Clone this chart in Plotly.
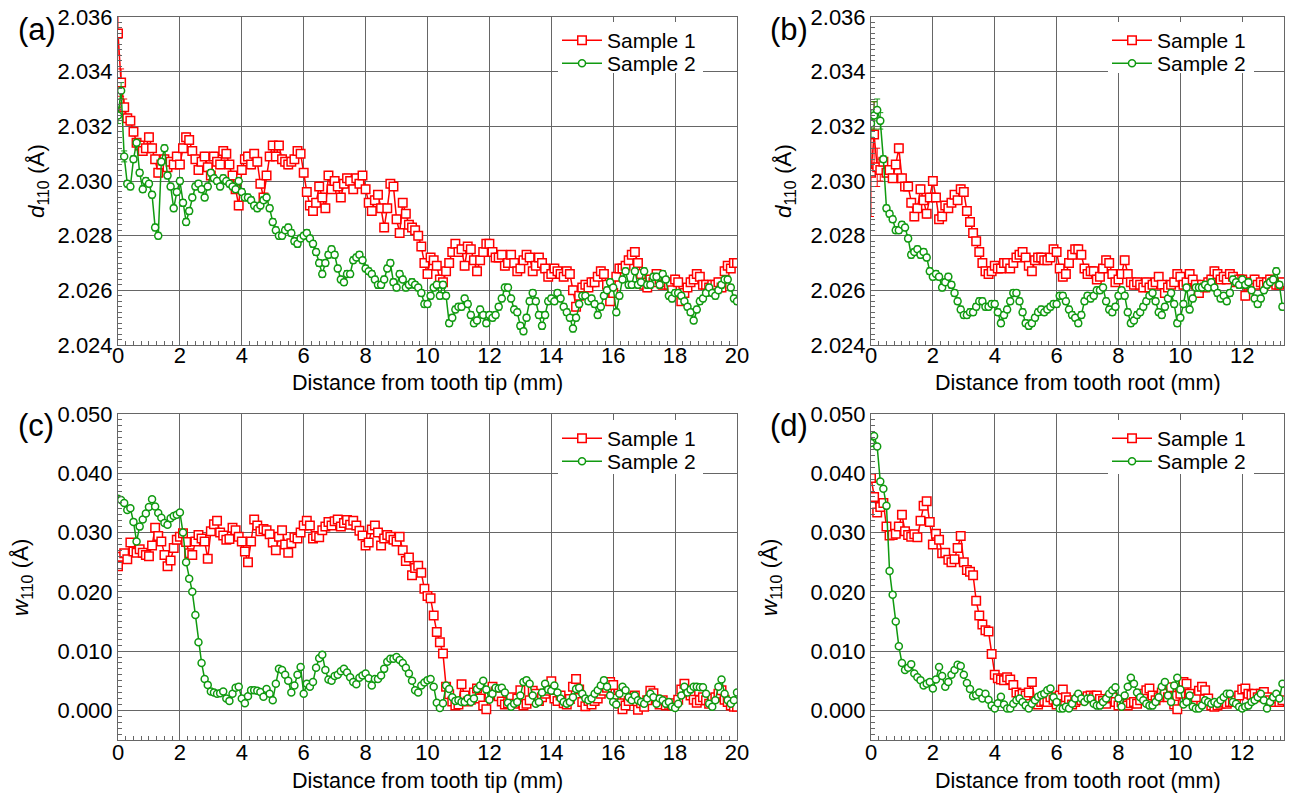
import numpy as np
import plotly.graph_objects as go

# ---------------- data (0.1 mm step) ----------------
# (a) lattice spacing d110 vs distance from tooth tip
d_tip_s1 = [
    2.0354, 2.0336, 2.0327, 2.0323, 2.0322, 2.0318, 2.0314, 2.0313, 2.0311, 2.0312,
    2.0316, 2.0312, 2.0308, 2.0303, 2.0306, 2.0308, 2.0305, 2.0307, 2.0306, 2.0309,
    2.0306, 2.0312, 2.0316, 2.0315, 2.0311, 2.0308, 2.0304, 2.0307, 2.0309, 2.0305,
    2.0302, 2.0309, 2.0307, 2.0306, 2.0311, 2.0310, 2.0306, 2.0302, 2.0297, 2.0291,
    2.0304, 2.0308, 2.0309, 2.0306, 2.0310, 2.0307, 2.0299, 2.0294, 2.0302, 2.0309,
    2.0313, 2.0309, 2.0313, 2.0308, 2.0307, 2.0306, 2.0307, 2.0308, 2.0311, 2.0310,
    2.0303, 2.0296, 2.0291, 2.0289, 2.0292, 2.0298, 2.0294, 2.0290, 2.0302, 2.0297,
    2.0300, 2.0298, 2.0294, 2.0299, 2.0301, 2.0300, 2.0297, 2.0301, 2.0299, 2.0302,
    2.0297, 2.0292, 2.0289, 2.0293, 2.0295, 2.0290, 2.0283, 2.0290, 2.0299, 2.0298,
    2.0286, 2.0281, 2.0292, 2.0288, 2.0284, 2.0283, 2.0282, 2.0280, 2.0276, 2.0270,
    2.0266, 2.0272, 2.0271, 2.0269, 2.0264, 2.0263, 2.0267, 2.0270, 2.0274, 2.0277,
    2.0274, 2.0275, 2.0269, 2.0276, 2.0275, 2.0271, 2.0267, 2.0271, 2.0274, 2.0277,
    2.0277, 2.0274, 2.0272, 2.0272, 2.0273, 2.0269, 2.0270, 2.0273, 2.0270, 2.0267,
    2.0268, 2.0271, 2.0273, 2.0272, 2.0267, 2.0269, 2.0272, 2.0270, 2.0268, 2.0265,
    2.0266, 2.0268, 2.0267, 2.0266, 2.0265, 2.0267, 2.0266, 2.0260, 2.0254, 2.0258,
    2.0261, 2.0262, 2.0261, 2.0263, 2.0263, 2.0265, 2.0267, 2.0266, 2.0262, 2.0256,
    2.0259, 2.0265, 2.0268, 2.0268, 2.0269, 2.0271, 2.0273, 2.0274, 2.0270, 2.0266,
    2.0262, 2.0261, 2.0264, 2.0263, 2.0266, 2.0264, 2.0262, 2.0263, 2.0262, 2.0260,
    2.0264, 2.0263, 2.0256, 2.0259, 2.0261, 2.0263, 2.0264, 2.0266, 2.0265, 2.0262,
    2.0262, 2.0261, 2.0262, 2.0262, 2.0263, 2.0261, 2.0267, 2.0269, 2.0268, 2.0270,
    2.0270,
]
d_tip_s2 = [
    2.0324, 2.0333, 2.0309, 2.0299, 2.0298, 2.0308, 2.0314, 2.0303, 2.0297, 2.0300,
    2.0299, 2.0295, 2.0283, 2.0280, 2.0307, 2.0312, 2.0302, 2.0298, 2.0290, 2.0296,
    2.0300, 2.0292, 2.0285, 2.0289, 2.0294, 2.0298, 2.0299, 2.0297, 2.0294, 2.0298,
    2.0303, 2.0301, 2.0300, 2.0298, 2.0301, 2.0300, 2.0299, 2.0298, 2.0297, 2.0300,
    2.0296, 2.0294, 2.0294, 2.0293, 2.0291, 2.0290, 2.0291, 2.0293, 2.0294, 2.0290,
    2.0285, 2.0282, 2.0280, 2.0280, 2.0282, 2.0283, 2.0281, 2.0278, 2.0277, 2.0279,
    2.0280, 2.0281, 2.0279, 2.0277, 2.0274, 2.0270, 2.0266, 2.0270, 2.0273, 2.0275,
    2.0273, 2.0268, 2.0264, 2.0263, 2.0266, 2.0266, 2.0271, 2.0272, 2.0273, 2.0271,
    2.0268, 2.0267, 2.0266, 2.0264, 2.0262, 2.0262, 2.0264, 2.0268, 2.0270, 2.0263,
    2.0261, 2.0266, 2.0264, 2.0261, 2.0262, 2.0263, 2.0262, 2.0261, 2.0259, 2.0255,
    2.0255, 2.0258, 2.0261, 2.0262, 2.0258, 2.0262, 2.0258, 2.0248, 2.0250, 2.0253,
    2.0254, 2.0254, 2.0257, 2.0255, 2.0251, 2.0248, 2.0249, 2.0253, 2.0251, 2.0248,
    2.0251, 2.0250, 2.0251, 2.0254, 2.0257, 2.0261, 2.0261, 2.0257, 2.0253, 2.0252,
    2.0247, 2.0245, 2.0250, 2.0256, 2.0259, 2.0256, 2.0251, 2.0247, 2.0251, 2.0256,
    2.0257, 2.0256, 2.0259, 2.0257, 2.0254, 2.0252, 2.0250, 2.0246, 2.0250, 2.0255,
    2.0258, 2.0258, 2.0256, 2.0257, 2.0255, 2.0251, 2.0254, 2.0258, 2.0260, 2.0263,
    2.0261, 2.0252, 2.0258, 2.0264, 2.0267, 2.0262, 2.0262, 2.0267, 2.0262, 2.0263,
    2.0267, 2.0262, 2.0262, 2.0265, 2.0265, 2.0262, 2.0266, 2.0264, 2.0258, 2.0257,
    2.0259, 2.0259, 2.0258, 2.0256, 2.0254, 2.0252, 2.0249, 2.0253, 2.0256, 2.0257,
    2.0259, 2.0261, 2.0259, 2.0258, 2.0260, 2.0262, 2.0264, 2.0264, 2.0261, 2.0257,
    2.0256,
]

# (b) d110 vs distance from tooth root
d_root_s1 = [
    2.0303, 2.0317, 2.0305, 2.0304, 2.0307, 2.0303, 2.0304, 2.0301, 2.0306, 2.0312,
    2.0301, 2.0298, 2.0298, 2.0292, 2.0287, 2.0290, 2.0297, 2.0293, 2.0288, 2.0294,
    2.0300, 2.0294, 2.0286, 2.0287, 2.0291, 2.0290, 2.0292, 2.0295, 2.0293, 2.0297,
    2.0296, 2.0289, 2.0285, 2.0281, 2.0278, 2.0274, 2.0270, 2.0267, 2.0266, 2.0267,
    2.0269, 2.0268, 2.0268, 2.0270, 2.0270, 2.0268, 2.0270, 2.0272, 2.0273, 2.0274,
    2.0272, 2.0269, 2.0267, 2.0271, 2.0272, 2.0272, 2.0271, 2.0271, 2.0272, 2.0275,
    2.0274, 2.0268, 2.0265, 2.0266, 2.0270, 2.0273, 2.0275, 2.0275, 2.0273, 2.0268,
    2.0266, 2.0267, 2.0267, 2.0264, 2.0265, 2.0268, 2.0271, 2.0270, 2.0266, 2.0263,
    2.0264, 2.0266, 2.0271, 2.0266, 2.0263, 2.0262, 2.0263, 2.0262, 2.0261, 2.0263,
    2.0261, 2.0262, 2.0263, 2.0265, 2.0262, 2.0259, 2.0261, 2.0262, 2.0263, 2.0266,
    2.0265, 2.0262, 2.0263, 2.0266, 2.0264, 2.0262, 2.0259, 2.0262, 2.0261, 2.0263,
    2.0264, 2.0267, 2.0266, 2.0264, 2.0265, 2.0264, 2.0266, 2.0265, 2.0263, 2.0264,
    2.0264, 2.0258, 2.0262, 2.0263, 2.0264, 2.0262, 2.0263, 2.0262, 2.0263, 2.0264,
    2.0263, 2.0262, 2.0262, 2.0263,
]
d_root_s2 = [
    2.0321, 2.0324, 2.0326, 2.0322, 2.0308, 2.0290, 2.0288, 2.0286, 2.0282, 2.0282,
    2.0284, 2.0283, 2.0279, 2.0273, 2.0274, 2.0275, 2.0273, 2.0274, 2.0272, 2.0267,
    2.0265, 2.0266, 2.0265, 2.0261, 2.0263, 2.0265, 2.0262, 2.0259, 2.0256, 2.0253,
    2.0251, 2.0251, 2.0252, 2.0252, 2.0254, 2.0256, 2.0256, 2.0254, 2.0254, 2.0255,
    2.0255, 2.0252, 2.0248, 2.0251, 2.0253, 2.0256, 2.0259, 2.0259, 2.0256, 2.0252,
    2.0248, 2.0247, 2.0248, 2.0250, 2.0252, 2.0253, 2.0252, 2.0253, 2.0254, 2.0255,
    2.0255, 2.0258, 2.0258, 2.0256, 2.0253, 2.0251, 2.0250, 2.0248, 2.0251, 2.0256,
    2.0258, 2.0257, 2.0258, 2.0260, 2.0260, 2.0261, 2.0256, 2.0253, 2.0252, 2.0254,
    2.0258, 2.0260, 2.0258, 2.0252, 2.0248, 2.0249, 2.0251, 2.0252, 2.0254, 2.0256,
    2.0258, 2.0259, 2.0256, 2.0252, 2.0251, 2.0254, 2.0257, 2.0259, 2.0255, 2.0248,
    2.0250, 2.0255, 2.0261, 2.0253, 2.0257, 2.0261, 2.0261, 2.0261, 2.0262, 2.0261,
    2.0263, 2.0261, 2.0259, 2.0257, 2.0258, 2.0256, 2.0259, 2.0264, 2.0263, 2.0262,
    2.0264, 2.0262, 2.0263, 2.0260, 2.0257, 2.0255, 2.0257, 2.0260, 2.0262, 2.0263,
    2.0264, 2.0267, 2.0262, 2.0254,
]

# (c) peak width w110 vs distance from tooth tip
w_tip_s1 = [
    0.0243, 0.0259, 0.0265, 0.0255, 0.0283, 0.0268, 0.0266, 0.0272, 0.0266, 0.0262,
    0.0260, 0.0278, 0.0308, 0.0294, 0.0285, 0.0262, 0.0243, 0.0253, 0.0274, 0.0288,
    0.0293, 0.0299, 0.0284, 0.0265, 0.0262, 0.0285, 0.0296, 0.0290, 0.0285, 0.0256,
    0.0302, 0.0314, 0.0320, 0.0300, 0.0295, 0.0288, 0.0289, 0.0308, 0.0304, 0.0293,
    0.0285, 0.0268, 0.0250, 0.0285, 0.0322, 0.0312, 0.0302, 0.0306, 0.0304, 0.0297,
    0.0283, 0.0270, 0.0293, 0.0304, 0.0280, 0.0266, 0.0282, 0.0292, 0.0290, 0.0300,
    0.0312, 0.0320, 0.0312, 0.0290, 0.0294, 0.0292, 0.0304, 0.0310, 0.0318, 0.0312,
    0.0319, 0.0322, 0.0310, 0.0316, 0.0321, 0.0313, 0.0320, 0.0312, 0.0303, 0.0295,
    0.0278, 0.0283, 0.0305, 0.0312, 0.0300, 0.0278, 0.0290, 0.0296, 0.0293, 0.0288,
    0.0285, 0.0293, 0.0270, 0.0252, 0.0258, 0.0228, 0.0240, 0.0244, 0.0232, 0.0205,
    0.0193, 0.0189, 0.0160, 0.0132, 0.0115, 0.0096, 0.0040, 0.0027, 0.0015, 0.0008,
    0.0010, 0.0044, 0.0025, 0.0015, 0.0018, 0.0030, 0.0037, 0.0020, 0.0008, 0.0002,
    0.0025, 0.0040, 0.0032, 0.0024, 0.0015, 0.0010, 0.0012, 0.0022, 0.0011, 0.0020,
    0.0034, 0.0008, 0.0011, 0.0017, 0.0033, 0.0028, 0.0016, 0.0022, 0.0028, 0.0033,
    0.0049, 0.0020, 0.0016, 0.0025, 0.0012, 0.0010, 0.0019, 0.0040, 0.0053, 0.0035,
    0.0014, 0.0007, 0.0016, 0.0010, 0.0016, 0.0020, 0.0028, 0.0033, 0.0038, 0.0048,
    0.0043, 0.0020, 0.0012, 0.0002, 0.0008, 0.0016, 0.0022, 0.0025, 0.0001, 0.0012,
    0.0006, 0.0017, 0.0033, 0.0029, 0.0018, 0.0010, 0.0017, 0.0008, 0.0011, 0.0008,
    0.0012, 0.0018, 0.0035, 0.0045, 0.0030, 0.0025, 0.0018, 0.0013, 0.0017, 0.0022,
    0.0017, 0.0011, 0.0020, 0.0022, 0.0028, 0.0034, 0.0018, 0.0014, 0.0008, 0.0006,
    0.0006,
]
w_tip_s2 = [
    0.0357, 0.0355, 0.0350, 0.0338, 0.0341, 0.0318, 0.0285, 0.0310, 0.0322, 0.0332,
    0.0343, 0.0356, 0.0344, 0.0333, 0.0325, 0.0316, 0.0313, 0.0324, 0.0328, 0.0330,
    0.0334, 0.0300, 0.0250, 0.0222, 0.0200, 0.0161, 0.0115, 0.0080, 0.0053, 0.0043,
    0.0032, 0.0030, 0.0028, 0.0029, 0.0032, 0.0020, 0.0016, 0.0028, 0.0038, 0.0040,
    0.0020, 0.0012, 0.0024, 0.0034, 0.0034, 0.0033, 0.0031, 0.0023, 0.0036, 0.0028,
    0.0017, 0.0045, 0.0070, 0.0068, 0.0060, 0.0050, 0.0030, 0.0042, 0.0060, 0.0073,
    0.0028, 0.0045, 0.0040, 0.0048, 0.0072, 0.0088, 0.0094, 0.0068, 0.0052, 0.0050,
    0.0058, 0.0060, 0.0066, 0.0070, 0.0064, 0.0056, 0.0048, 0.0044, 0.0055, 0.0059,
    0.0062, 0.0054, 0.0042, 0.0053, 0.0053, 0.0059, 0.0070, 0.0082, 0.0087, 0.0087,
    0.0090, 0.0085, 0.0080, 0.0072, 0.0062, 0.0050, 0.0034, 0.0030, 0.0042, 0.0047,
    0.0051, 0.0053, 0.0040, 0.0013, 0.0004, 0.0012, 0.0042, 0.0036, 0.0022, 0.0016,
    0.0017, 0.0014, 0.0014, 0.0020, 0.0014, 0.0020, 0.0036, 0.0042, 0.0050, 0.0035,
    0.0018, 0.0028, 0.0038, 0.0037, 0.0038, 0.0030, 0.0013, 0.0006, 0.0011, 0.0014,
    0.0025, 0.0048, 0.0051, 0.0045, 0.0025, 0.0011, 0.0014, 0.0030, 0.0045, 0.0035,
    0.0033, 0.0042, 0.0030, 0.0020, 0.0014, 0.0011, 0.0014, 0.0022, 0.0036, 0.0038,
    0.0028, 0.0020, 0.0017, 0.0020, 0.0028, 0.0034, 0.0042, 0.0051, 0.0040, 0.0025,
    0.0014, 0.0010, 0.0028, 0.0040, 0.0034, 0.0022, 0.0017, 0.0025, 0.0017, 0.0014,
    0.0011, 0.0020, 0.0028, 0.0022, 0.0011, 0.0020, 0.0017, 0.0011, 0.0014, 0.0006,
    0.0004, 0.0011, 0.0025, 0.0040, 0.0030, 0.0035, 0.0040, 0.0040, 0.0039, 0.0039,
    0.0028, 0.0011, 0.0006, 0.0017, 0.0040, 0.0052, 0.0028, 0.0017, 0.0011, 0.0017,
    0.0030,
]

# (d) w110 vs distance from tooth root
w_root_s1 = [
    0.0392, 0.0360, 0.0334, 0.0343, 0.0350, 0.0310, 0.0295, 0.0296, 0.0298, 0.0310,
    0.0330, 0.0302, 0.0296, 0.0293, 0.0297, 0.0292, 0.0320, 0.0345, 0.0353, 0.0318,
    0.0280, 0.0298, 0.0288, 0.0265, 0.0266, 0.0254, 0.0250, 0.0255, 0.0274, 0.0294,
    0.0250, 0.0237, 0.0234, 0.0228, 0.0185, 0.0160, 0.0145, 0.0135, 0.0133, 0.0095,
    0.0060, 0.0054, 0.0052, 0.0051, 0.0056, 0.0052, 0.0043, 0.0030, 0.0026, 0.0028,
    0.0025, 0.0030, 0.0048, 0.0015, 0.0010, 0.0014, 0.0016, 0.0014, 0.0022, 0.0018,
    0.0010, 0.0025, 0.0035, 0.0022, 0.0017, 0.0010, 0.0014, 0.0020, 0.0017, 0.0020,
    0.0024, 0.0025, 0.0022, 0.0025, 0.0019, 0.0016, 0.0011, 0.0020, 0.0022, 0.0014,
    0.0008, 0.0014, 0.0011, 0.0008, 0.0012, 0.0014, 0.0011, 0.0017, 0.0028, 0.0034,
    0.0037, 0.0025, 0.0017, 0.0022, 0.0030, 0.0028, 0.0022, 0.0039, 0.0010, 0.0002,
    0.0028, 0.0048, 0.0045, 0.0028, 0.0017, 0.0022, 0.0033, 0.0040, 0.0034, 0.0020,
    0.0008, 0.0006, 0.0008, 0.0011, 0.0014, 0.0011, 0.0014, 0.0014, 0.0017, 0.0025,
    0.0035, 0.0037, 0.0028, 0.0026, 0.0028, 0.0022, 0.0028, 0.0031, 0.0022, 0.0017,
    0.0014, 0.0020, 0.0014, 0.0017,
]
w_root_s2 = [
    0.0451, 0.0463, 0.0445, 0.0386, 0.0374, 0.0345, 0.0235, 0.0195, 0.0150, 0.0108,
    0.0080, 0.0068, 0.0072, 0.0078, 0.0062, 0.0056, 0.0051, 0.0042, 0.0045, 0.0048,
    0.0037, 0.0052, 0.0073, 0.0058, 0.0040, 0.0048, 0.0060, 0.0068, 0.0077, 0.0075,
    0.0060, 0.0046, 0.0036, 0.0024, 0.0026, 0.0030, 0.0020, 0.0028, 0.0018, 0.0008,
    0.0003, 0.0012, 0.0023, 0.0010, 0.0003, 0.0003, 0.0011, 0.0017, 0.0020, 0.0014,
    0.0008, 0.0003, 0.0011, 0.0017, 0.0023, 0.0026, 0.0028, 0.0034, 0.0037, 0.0022,
    0.0014, 0.0003, 0.0003, 0.0006, 0.0003, 0.0011, 0.0020, 0.0028, 0.0020, 0.0014,
    0.0020, 0.0020, 0.0011, 0.0008, 0.0008, 0.0014, 0.0020, 0.0028, 0.0034, 0.0039,
    0.0020, 0.0006, 0.0025, 0.0040, 0.0055, 0.0045, 0.0030, 0.0022, 0.0017, 0.0011,
    0.0008, 0.0008, 0.0014, 0.0022, 0.0040, 0.0048, 0.0025, 0.0014, 0.0042, 0.0055,
    0.0035, 0.0010, 0.0014, 0.0025, 0.0006, 0.0003, 0.0003, 0.0008, 0.0017, 0.0014,
    0.0011, 0.0014, 0.0011, 0.0017, 0.0022, 0.0028, 0.0028, 0.0014, 0.0011, 0.0006,
    0.0003, 0.0006, 0.0008, 0.0014, 0.0017, 0.0022, 0.0028, 0.0017, 0.0003, 0.0014,
    0.0022, 0.0028, 0.0020, 0.0045,
]

# measurement uncertainties (larger close to the surface)
err_d_tip_s1 = [0.0008, 0.0005, 0.0003] + [0.00015] * (len(d_tip_s1) - 3)
err_d_tip_s2 = [0.0003, 0.0003, 0.0002] + [0.00012] * (len(d_tip_s2) - 3)
err_d_root_s1 = [0.0016, 0.0012, 0.0007, 0.0004] + [0.00015] * (len(d_root_s1) - 4)
err_d_root_s2 = [0.0005, 0.0005, 0.0004, 0.0003] + [0.00012] * (len(d_root_s2) - 4)
err_w = 0.0003

STEP = 0.1


def pos(values):
    return np.round(np.arange(len(values)) * STEP, 2)


RED = "#ff0000"
GREEN = "#109a10"
FONT = "Arial, 'Liberation Sans', sans-serif"
W, H = 1296, 794


def px_x(p):
    return p / W


def px_y(p):
    return 1 - p / H


fig = go.Figure()


def add_pair(n, x1, y1, e1, x2, y2, e2, leg1, leg2):
    sfx = "" if n == 1 else str(n)
    for name, xs, ys, es, col, sym, size, leg in (
        ("Sample 1", x1, y1, e1, RED, "square", 8.5, leg1),
        ("Sample 2", x2, y2, e2, GREEN, "circle", 7, leg2),
    ):
        fig.add_trace(go.Scatter(
            x=xs, y=ys, name=name, mode="lines+markers",
            xaxis="x" + sfx, yaxis="y" + sfx, legend=leg,
            line=dict(color=col, width=1.5),
            marker=dict(symbol=sym, size=size, color="white",
                        line=dict(color=col, width=1.5)),
            error_y=dict(type="data", array=es, color=col,
                         thickness=1, width=3),
        ))


add_pair(1, pos(d_tip_s1), d_tip_s1, err_d_tip_s1,
         pos(d_tip_s2), d_tip_s2, err_d_tip_s2, "legend", "legend5")
add_pair(2, pos(d_root_s1), d_root_s1, err_d_root_s1,
         pos(d_root_s2), d_root_s2, err_d_root_s2, "legend2", "legend6")
add_pair(3, pos(w_tip_s1), w_tip_s1, [err_w] * len(w_tip_s1),
         pos(w_tip_s2), w_tip_s2, [err_w] * len(w_tip_s2), "legend3", "legend7")
add_pair(4, pos(w_root_s1), w_root_s1, [err_w] * len(w_root_s1),
         pos(w_root_s2), w_root_s2, [err_w] * len(w_root_s2), "legend4", "legend8")

GRID = "#666666"
tickfont = dict(family=FONT, size=22, color="black")

# pixel frames of the four panels: left, right, top, bottom
frames = {
    1: (118, 737, 17, 345),
    2: (871, 1284, 17, 345),
    3: (118, 737, 414, 740),
    4: (871, 1284, 414, 740),
}
xranges = {1: [0, 20], 2: [0, 13.35], 3: [0, 20], 4: [0, 13.35]}

layout = dict(
    width=W, height=H,
    margin=dict(l=0, r=0, t=0, b=0, autoexpand=False),
    paper_bgcolor="white", plot_bgcolor="white",
    font=dict(family=FONT, size=21, color="black"),
    showlegend=True,
)

for n, (l, r, t, b) in frames.items():
    sfx = "" if n == 1 else str(n)
    top_row = n in (1, 2)
    layout["xaxis" + sfx] = dict(
        domain=[px_x(l), px_x(r)], range=xranges[n], anchor="y" + sfx,
        dtick=2, tick0=0, showgrid=True, gridcolor=GRID, gridwidth=1,
        zeroline=False, showline=True, mirror=True, linecolor=GRID, linewidth=1,
        ticks="inside", ticklen=6, tickcolor=GRID, tickfont=tickfont,
        ticklabelstandoff=-9 if top_row else -7, automargin=False,
        minor=dict(dtick=0.25, tick0=0, ticks="inside", ticklen=4,
                   tickcolor=GRID, showgrid=False),
    )
    if top_row:
        yr, yd, ym, t0 = [2.024, 2.036], 0.002, 0.0002, 2.024
    else:
        yr, yd, ym, t0 = [-0.005, 0.050], 0.01, 0.001, 0.0
    layout["yaxis" + sfx] = dict(
        domain=[px_y(b), px_y(t)], range=yr, anchor="x" + sfx,
        dtick=yd, tick0=t0, tickformat=".3f", automargin=False,
        showgrid=True, gridcolor=GRID, gridwidth=1,
        zeroline=False, showline=True, mirror=True, linecolor=GRID, linewidth=1,
        ticks="inside", ticklen=6, tickcolor=GRID, tickfont=tickfont,
        minor=dict(dtick=ym, tick0=t0, ticks="inside", ticklen=4,
                   tickcolor=GRID, showgrid=False),
    )

# one legend per entry so that each row sits where it should
legend_pos = {
    "legend": (557, 20), "legend5": (557, 43),
    "legend2": (1107, 20), "legend6": (1107, 43),
    "legend3": (557, 418), "legend7": (557, 441),
    "legend4": (1107, 418), "legend8": (1107, 441),
}
for key, (lx, ly) in legend_pos.items():
    layout[key] = dict(
        x=px_x(lx), y=px_y(ly), xanchor="left", yanchor="top",
        xref="paper", yref="paper",
        bgcolor="rgba(0,0,0,0)", borderwidth=0,
        font=dict(family=FONT, size=21, color="black"),
        tracegroupgap=0, itemwidth=40,
    )

# white boxes behind the legends (they mask the grid there)
shapes = []
for l, r, t, b in ((558, 703, 22, 73), (1108, 1254, 22, 73),
                   (558, 703, 420, 474), (1108, 1254, 420, 474)):
    shapes.append(dict(type="rect", xref="paper", yref="paper",
                       x0=px_x(l), x1=px_x(r), y0=px_y(b), y1=px_y(t),
                       fillcolor="white", line=dict(width=0), layer="above"))
layout["shapes"] = shapes

annotations = []
# panel letters
for txt, cx, cy in (("(a)", 37, 29), ("(b)", 789, 29),
                    ("(c)", 36, 425), ("(d)", 789, 425)):
    annotations.append(dict(text=txt, x=px_x(cx), y=px_y(cy), xref="paper",
                            yref="paper", showarrow=False,
                            xanchor="center", yanchor="middle",
                            font=dict(family=FONT, size=31, color="black")))
# x-axis titles
for txt, cx, cy in (("Distance from tooth tip (mm)", 427.5, 383),
                    ("Distance from tooth root (mm)", 1077.5, 383),
                    ("Distance from tooth tip (mm)", 427.5, 781),
                    ("Distance from tooth root (mm)", 1077.5, 781)):
    annotations.append(dict(text=txt, x=px_x(cx), y=px_y(cy), xref="paper",
                            yref="paper", showarrow=False,
                            xanchor="center", yanchor="middle",
                            font=dict(family=FONT, size=21.5, color="black")))
# y-axis titles
for txt, cx, cy in (("<i>d</i><sub>110</sub> (Å)", 38, 181),
                    ("<i>d</i><sub>110</sub> (Å)", 785, 181),
                    ("<i>w</i><sub>110</sub> (Å)", 22, 577),
                    ("<i>w</i><sub>110</sub> (Å)", 771, 577)):
    annotations.append(dict(text=txt, x=px_x(cx), y=px_y(cy), xref="paper",
                            yref="paper", showarrow=False, textangle=-90,
                            xanchor="center", yanchor="middle",
                            font=dict(family=FONT, size=22.5, color="black")))
layout["annotations"] = annotations

fig.update_layout(**layout)
fig.write_html("out.html")
